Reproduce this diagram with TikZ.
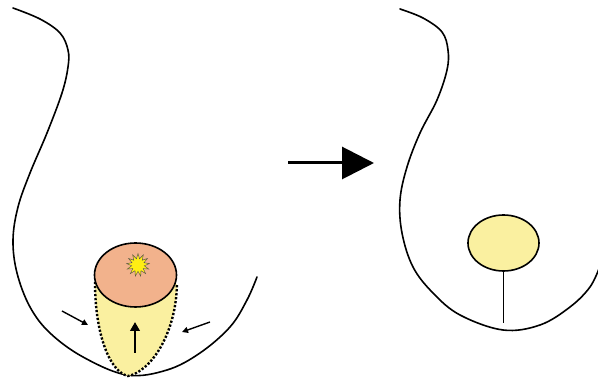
\documentclass[tikz,border=0pt]{standalone}
\usetikzlibrary{arrows.meta,shapes.geometric}
\definecolor{peach}{RGB}{242,178,140}
\definecolor{paleyellow}{RGB}{250,240,160}
\definecolor{burst}{RGB}{255,238,20}
\tikzset{
  outline/.style={line width=1.6pt, line cap=round},
  push/.style={line width=1.4pt, -{Triangle[length=6pt,width=6pt]}},
}
\begin{document}
\begin{tikzpicture}[x=1pt,y=-1pt]
\useasboundingbox (0,0) rectangle (598,379);

% left outline
\draw[outline] plot[smooth, tension=0.6] coordinates {
  (13,8) (40,19) (60,33) (68,50) (68,67) (62,93) (47,133) (30,173)
  (18,207) (13,240) (17,273) (30,307) (50,333) (83,357) (127,375)
  (167,370) (200,353) (230,327) (247,300) (257,277)};

% cone below the lump
\fill[paleyellow] (95,282) .. controls (95,335) and (110,372) .. (128,376)
  .. controls (150,372) and (176,335) .. (177,284) -- cycle;
\draw[line width=2.4pt, dash pattern=on 2.2pt off 1.8pt]
  (95,282) .. controls (95,335) and (110,372) .. (128,376)
  .. controls (150,372) and (176,335) .. (177,284);

% lump top with burst
\draw[line width=1.6pt, fill=peach] (135.5,275) ellipse [x radius=41, y radius=32];
\node[star, star points=13, star point ratio=1.8, minimum size=23pt, inner sep=0pt,
      fill=burst, draw=black!70, line width=0.4pt] (burst) at (138,265) {};

% pushing arrows
\coordinate (la) at (62,311);
\coordinate (lb) at (88,325);
\draw[push] (la) -- (lb);
\coordinate (ra) at (210,322);
\coordinate (rb) at (182,332);
\draw[push] (ra) -- (rb);
\coordinate (ua) at (135,353);
\coordinate (ub) at (135,322);
\draw[line width=2.8pt, -{Triangle[length=9pt,width=9.5pt]}] (ua) -- (ub);

% transition arrow
\coordinate (ma) at (288,163);
\coordinate (mb) at (374,163);
\draw[line width=3pt, -{Triangle[length=32pt,width=32pt]}] (ma) -- (mb);

% right outline
\draw[outline] plot[smooth, tension=0.6] coordinates {
  (400,9) (423,18) (442,32) (448,50) (447,70) (437,100) (420,133)
  (407,167) (400,200) (402,233) (413,267) (433,293) (460,315) (503,330)
  (540,325) (570,307) (590,287) (600,266)};

% remaining lump and stem
\draw[line width=1.5pt] (503.5,271) -- (503.5,323);
\draw[line width=1.6pt, fill=paleyellow] (503.5,243) ellipse [x radius=35.5, y radius=28];
\end{tikzpicture}
\end{document}
